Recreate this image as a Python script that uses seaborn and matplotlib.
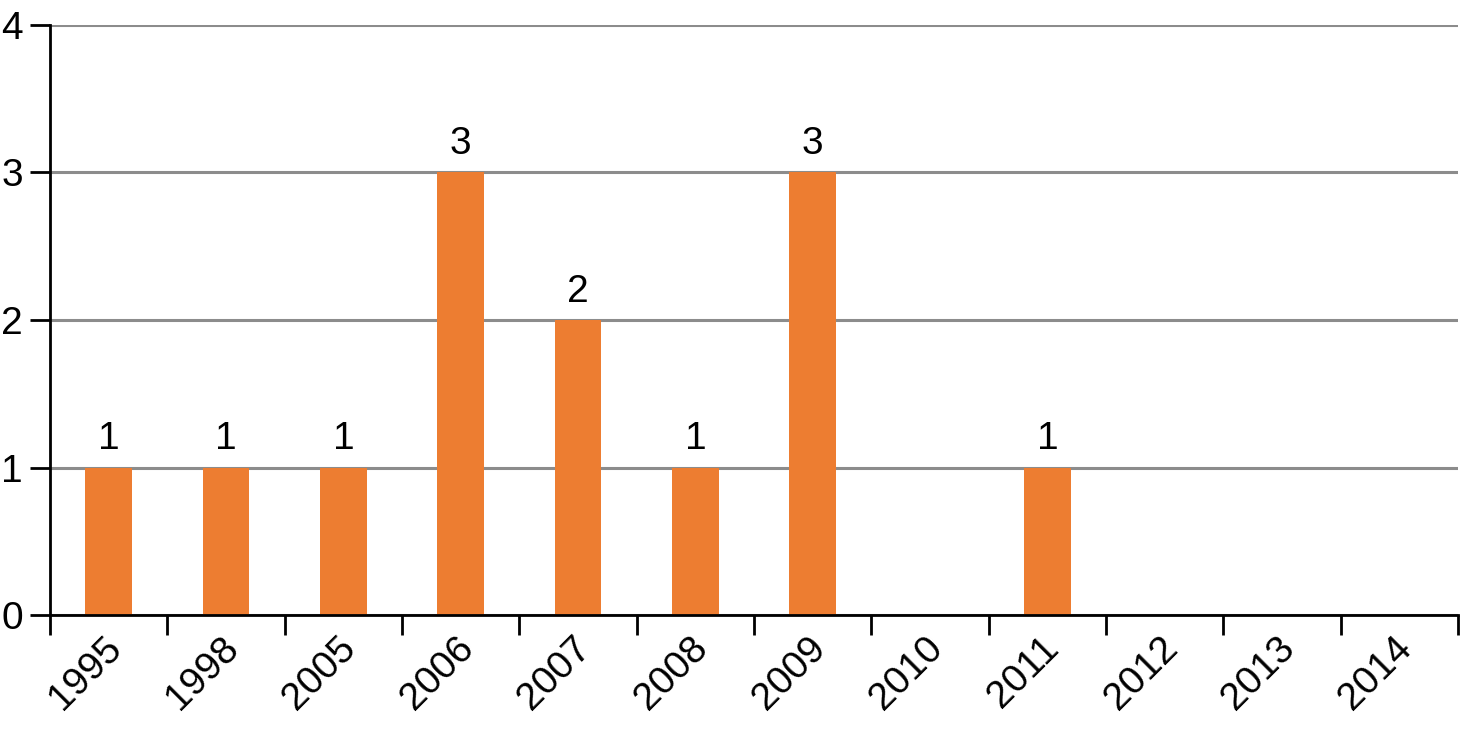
"""Bar chart of counts per year, seaborn version."""

import numpy as np
import pandas as pd
import seaborn as sns
import matplotlib.pyplot as plt

years = ["1995", "1998", "2005", "2006", "2007", "2008",
         "2009", "2010", "2011", "2012", "2013", "2014"]
counts = [1, 1, 1, 3, 2, 1, 3, 0, 1, 0, 0, 0]

sns.set_theme(style="white")
plt.rcParams["font.family"] = ["Liberation Sans", "DejaVu Sans"]
plt.rcParams["text.color"] = "black"

df = pd.DataFrame({"year": years, "count": counts})
FS = 28

fig = plt.figure(figsize=(14.61, 7.30), dpi=100)
ax = fig.add_axes([0.0342, 0.1575, 0.9638, 0.8083])

sns.barplot(data=df, x="year", y="count", color="#ED7D31", saturation=1,
            width=0.4, linewidth=0, ax=ax, zorder=3)

ax.set_xlim(-0.5, len(years) - 0.5)
ax.set_ylim(0, 4)
ax.set_yticks(range(5))
ax.yaxis.grid(True, color="#8c8c8c", linewidth=2.2, zorder=0)
ax.set_axisbelow(True)

# ticks sit between categories; labels (no tick mark) a bit left of bar centre
ax.set_xticks(np.arange(len(years) + 1) - 0.5)
ax.set_xticklabels([])
ax.set_xticks(np.arange(len(years)) - 0.2, minor=True)
ax.set_xticklabels(years, minor=True, rotation=45, ha="center", va="top",
                   fontsize=FS)
ax.tick_params(axis="x", which="major", length=14.4, width=2, color="black",
               direction="out", bottom=True)
ax.tick_params(axis="x", which="minor", length=0, pad=11, labelcolor="black")
ax.tick_params(axis="y", length=14.4, width=2, color="black", labelsize=FS,
               direction="out", left=True, pad=5, labelcolor="black")

for s in ["top", "right"]:
    ax.spines[s].set_visible(False)
for s in ["left", "bottom"]:
    ax.spines[s].set_color("black")
    ax.spines[s].set_linewidth(2)
    ax.spines[s].set_zorder(4)

for i, v in enumerate(counts):
    if v > 0:
        ax.annotate(str(v), (i, v), xytext=(0, 13), textcoords="offset points",
                    ha="center", va="baseline", fontsize=FS, color="black")

ax.set_xlabel("")
ax.set_ylabel("")

fig.savefig("out.png", dpi=100)
